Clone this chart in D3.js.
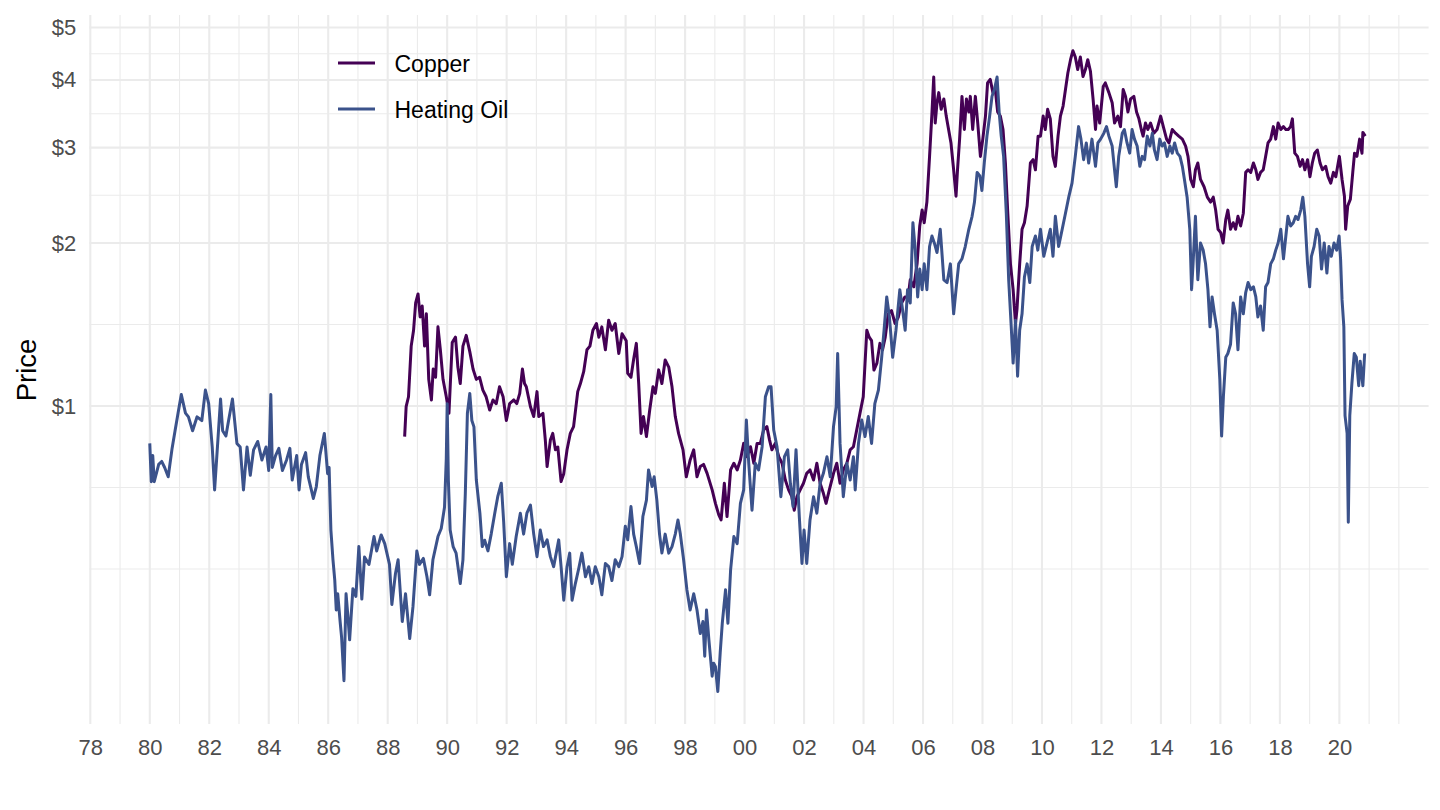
<!DOCTYPE html>
<html>
<head>
<meta charset="utf-8">
<script src="https://cdn.jsdelivr.net/npm/d3@7"></script>
<style>
  body { margin: 0; background: #fff; }
  svg { display: block; font-family: "Liberation Sans", Arial, sans-serif; }
</style>
</head>
<body>
<svg id="chart" width="1440" height="810"></svg>
<script>
const width = 1440;
const height = 810;

// [year, price]
var copperPoints = [
  [1988.57,0.878],[1988.62,0.997],[1988.7,1.04],[1988.79,1.29],[1988.87,1.38],[1988.94,1.55],[1989.02,1.61],
  [1989.09,1.46],[1989.16,1.53],[1989.24,1.29],[1989.3,1.48],[1989.38,1.12],[1989.47,1.026],[1989.53,1.17],
  [1989.61,1.13],[1989.69,1.40],[1989.77,1.27],[1989.86,1.12],[1989.97,1.04],[1990.06,0.97],[1990.17,1.31],
  [1990.28,1.34],[1990.36,1.18],[1990.44,1.10],[1990.53,1.29],[1990.64,1.35],[1990.76,1.26],[1990.87,1.17],
  [1990.98,1.12],[1991.09,1.13],[1991.2,1.07],[1991.31,1.04],[1991.43,0.983],[1991.54,1.026],[1991.65,1.01],
  [1991.76,1.085],[1991.88,1.04],[1991.99,0.94],[1992.1,1.01],[1992.24,1.026],[1992.34,1.01],[1992.44,1.055],
  [1992.53,1.17],[1992.6,1.10],[1992.66,1.085],[1992.8,0.997],[1992.91,0.956],[1993.02,1.063],[1993.08,0.956],
  [1993.22,0.969],[1993.3,0.865],[1993.36,0.773],[1993.47,0.865],[1993.55,0.89],[1993.64,0.83],[1993.72,0.84],
  [1993.83,0.725],[1993.92,0.75],[1994.03,0.83],[1994.14,0.89],[1994.25,0.916],[1994.39,1.063],[1994.48,1.10],
  [1994.59,1.157],[1994.7,1.27],[1994.8,1.29],[1994.9,1.38],[1995.02,1.42],[1995.1,1.34],[1995.2,1.40],
  [1995.32,1.27],[1995.43,1.44],[1995.54,1.38],[1995.65,1.42],[1995.77,1.25],[1995.88,1.36],[1996.02,1.32],
  [1996.07,1.149],[1996.18,1.13],[1996.27,1.22],[1996.36,1.305],[1996.44,1.10],[1996.52,0.89],[1996.6,0.956],
  [1996.7,0.878],[1996.81,0.983],[1996.92,1.085],[1997.0,1.055],[1997.11,1.166],[1997.22,1.10],[1997.33,1.216],
  [1997.45,1.18],[1997.56,1.085],[1997.67,0.956],[1997.78,0.89],[1997.93,0.83],[1998.04,0.74],[1998.17,0.795],
  [1998.29,0.83],[1998.4,0.74],[1998.51,0.773],[1998.62,0.78],[1998.74,0.751],[1998.91,0.70],[1999.02,0.661],
  [1999.13,0.63],[1999.21,0.616],[1999.32,0.72],[1999.41,0.625],[1999.53,0.762],[1999.64,0.784],[1999.75,0.762],
  [1999.86,0.795],[1999.97,0.853],[2000.08,0.806],[2000.2,0.841],[2000.31,0.784],[2000.42,0.853],[2000.53,0.853],
  [2000.64,0.903],[2000.75,0.916],[2000.84,0.865],[2000.92,0.83],[2001.03,0.853],[2001.15,0.806],[2001.26,0.784],
  [2001.37,0.73],[2001.48,0.70],[2001.59,0.68],[2001.67,0.642],[2001.76,0.68],[2001.87,0.70],[2001.98,0.72],
  [2002.09,0.751],[2002.2,0.762],[2002.32,0.73],[2002.43,0.784],[2002.54,0.72],[2002.65,0.69],[2002.74,0.661],
  [2002.85,0.70],[2002.99,0.751],[2003.1,0.784],[2003.21,0.72],[2003.32,0.762],[2003.44,0.784],[2003.55,0.83],
  [2003.66,0.841],[2003.77,0.903],[2003.88,0.969],[2003.99,1.04],[2004.11,1.38],[2004.19,1.34],[2004.27,1.32],
  [2004.35,1.165],[2004.45,1.2],[2004.55,1.305],[2004.64,1.27],[2004.73,1.34],[2004.83,1.48],[2004.94,1.50],
  [2005.06,1.42],[2005.17,1.46],[2005.28,1.55],[2005.39,1.59],[2005.5,1.59],[2005.57,1.71],[2005.69,1.66],
  [2005.8,1.83],[2005.89,2.15],[2005.97,2.30],[2006.04,2.18],[2006.13,2.38],[2006.22,2.89],[2006.3,3.47],
  [2006.36,4.05],[2006.41,3.33],[2006.47,3.63],[2006.53,3.79],[2006.61,3.53],[2006.7,3.69],[2006.78,3.43],
  [2006.86,3.24],[2006.94,3.06],[2007.03,2.73],[2007.11,2.44],[2007.16,2.73],[2007.23,3.11],[2007.31,3.73],
  [2007.39,3.24],[2007.46,3.69],[2007.54,3.49],[2007.59,3.73],[2007.67,3.24],[2007.76,3.73],[2007.84,3.33],
  [2007.93,2.89],[2008.01,3.11],[2008.1,3.43],[2008.17,3.95],[2008.26,4.01],[2008.35,3.79],[2008.43,3.84],
  [2008.51,3.49],[2008.6,3.43],[2008.69,3.24],[2008.77,2.81],[2008.85,2.27],[2008.94,1.83],[2009.03,1.64],
  [2009.11,1.42],[2009.16,1.51],[2009.25,1.83],[2009.33,2.12],[2009.41,2.18],[2009.5,2.34],[2009.61,2.81],
  [2009.7,2.85],[2009.78,2.73],[2009.87,3.15],[2009.95,3.15],[2010.04,3.43],[2010.11,3.24],[2010.19,3.53],
  [2010.28,3.39],[2010.37,2.89],[2010.45,2.77],[2010.54,3.15],[2010.62,3.43],[2010.71,3.58],[2010.79,3.84],
  [2010.87,4.12],[2010.96,4.36],[2011.04,4.53],[2011.12,4.41],[2011.2,4.18],[2011.29,4.41],[2011.38,4.06],
  [2011.46,4.18],[2011.54,4.36],[2011.63,4.15],[2011.72,3.68],[2011.8,3.24],[2011.85,3.58],[2011.94,3.33],
  [2012.06,3.89],[2012.13,3.95],[2012.25,3.79],[2012.36,3.63],[2012.44,3.33],[2012.55,3.43],[2012.64,3.28],
  [2012.73,3.84],[2012.81,3.73],[2012.89,3.49],[2012.98,3.69],[2013.09,3.73],[2013.18,3.49],[2013.26,3.39],
  [2013.34,3.24],[2013.4,3.15],[2013.48,3.33],[2013.56,3.24],[2013.65,3.33],[2013.76,3.19],[2013.87,3.24],
  [2013.99,3.43],[2014.08,3.28],[2014.19,3.11],[2014.27,3.06],[2014.38,3.24],[2014.49,3.19],[2014.6,3.15],
  [2014.72,3.11],[2014.83,3.02],[2014.91,2.89],[2015.0,2.62],[2015.09,2.54],[2015.16,2.73],[2015.24,2.81],
  [2015.33,2.62],[2015.45,2.54],[2015.56,2.43],[2015.67,2.38],[2015.76,2.43],[2015.84,2.30],[2015.92,2.12],
  [2016.01,2.09],[2016.09,2.0],[2016.18,2.21],[2016.25,2.30],[2016.34,2.12],[2016.43,2.18],[2016.51,2.12],
  [2016.59,2.24],[2016.68,2.15],[2016.77,2.27],[2016.85,2.70],[2016.93,2.73],[2017.02,2.70],[2017.11,2.81],
  [2017.19,2.73],[2017.26,2.62],[2017.35,2.70],[2017.44,2.73],[2017.52,2.89],[2017.6,3.06],[2017.69,3.11],
  [2017.78,3.28],[2017.86,3.11],[2017.94,3.33],[2018.03,3.24],[2018.12,3.28],[2018.2,3.24],[2018.28,3.24],
  [2018.36,3.28],[2018.42,3.39],[2018.5,2.93],[2018.59,2.89],[2018.68,2.77],[2018.76,2.85],[2018.84,2.73],
  [2018.93,2.85],[2019.01,2.65],[2019.09,2.81],[2019.17,2.93],[2019.26,2.97],[2019.35,2.81],[2019.43,2.73],
  [2019.54,2.77],[2019.62,2.65],[2019.71,2.58],[2019.8,2.70],[2019.88,2.65],[2019.96,2.81],[2020.0,2.89],
  [2020.09,2.62],[2020.17,2.44],[2020.21,2.12],[2020.28,2.34],[2020.37,2.41],[2020.45,2.70],[2020.51,2.93],
  [2020.59,2.89],[2020.68,3.11],[2020.76,2.93],[2020.79,3.2],[2020.87,3.15]
];

var oilPoints = [
  [1980.0,0.853],[1980.05,0.725],[1980.1,0.81],[1980.15,0.725],[1980.3,0.78],[1980.4,0.79],[1980.5,0.77],
  [1980.62,0.74],[1980.75,0.835],[1980.85,0.90],[1980.95,0.97],[1981.06,1.05],[1981.2,0.97],[1981.3,0.955],
  [1981.44,0.90],[1981.59,0.955],[1981.75,0.94],[1981.87,1.07],[1981.98,1.01],[1982.1,0.84],[1982.18,0.70],
  [1982.29,0.865],[1982.38,1.03],[1982.45,0.90],[1982.56,0.88],[1982.65,0.94],[1982.78,1.03],[1982.93,0.853],
  [1983.04,0.84],[1983.15,0.70],[1983.27,0.84],[1983.38,0.745],[1983.49,0.83],[1983.63,0.86],[1983.77,0.795],
  [1983.91,0.84],[1984.0,0.76],[1984.07,1.05],[1984.12,0.77],[1984.23,0.81],[1984.34,0.835],[1984.46,0.76],
  [1984.6,0.795],[1984.71,0.835],[1984.79,0.73],[1984.94,0.81],[1985.02,0.70],[1985.1,0.78],[1985.24,0.82],
  [1985.33,0.74],[1985.5,0.675],[1985.6,0.71],[1985.72,0.81],[1985.87,0.89],[1985.98,0.75],[1986.03,0.77],
  [1986.09,0.59],[1986.16,0.52],[1986.22,0.477],[1986.27,0.42],[1986.32,0.45],[1986.4,0.40],[1986.45,0.374],
  [1986.53,0.311],[1986.6,0.45],[1986.66,0.41],[1986.72,0.37],[1986.83,0.46],[1986.93,0.445],[1987.03,0.55],
  [1987.13,0.44],[1987.22,0.526],[1987.37,0.51],[1987.54,0.574],[1987.63,0.54],[1987.78,0.578],[1987.9,0.557],
  [1988.06,0.51],[1988.14,0.43],[1988.26,0.49],[1988.35,0.52],[1988.49,0.40],[1988.6,0.45],[1988.74,0.372],
  [1988.85,0.426],[1988.98,0.54],[1989.07,0.51],[1989.2,0.523],[1989.32,0.484],[1989.41,0.448],[1989.52,0.52],
  [1989.69,0.574],[1989.8,0.594],[1989.91,0.65],[1989.97,0.80],[1990.0,1.01],[1990.04,0.73],[1990.1,0.59],
  [1990.2,0.55],[1990.3,0.535],[1990.44,0.47],[1990.53,0.52],[1990.61,0.69],[1990.68,0.97],[1990.76,1.055],
  [1990.83,0.94],[1990.9,0.915],[1990.98,0.73],[1991.1,0.634],[1991.18,0.55],[1991.26,0.565],[1991.37,0.54],
  [1991.48,0.58],[1991.6,0.634],[1991.7,0.68],[1991.82,0.72],[1991.9,0.61],[1991.99,0.484],[1992.1,0.557],
  [1992.19,0.51],[1992.32,0.574],[1992.46,0.634],[1992.57,0.58],[1992.68,0.634],[1992.8,0.656],[1992.91,0.58],
  [1993.02,0.527],[1993.13,0.59],[1993.24,0.55],[1993.36,0.566],[1993.47,0.527],[1993.58,0.505],[1993.75,0.566],
  [1993.83,0.505],[1993.92,0.438],[1994.03,0.505],[1994.12,0.535],[1994.2,0.438],[1994.31,0.47],[1994.42,0.50],
  [1994.53,0.535],[1994.65,0.484],[1994.76,0.505],[1994.87,0.47],[1994.98,0.505],[1995.1,0.484],[1995.2,0.448],
  [1995.32,0.512],[1995.43,0.505],[1995.54,0.476],[1995.65,0.52],[1995.77,0.505],[1995.88,0.527],[1995.99,0.60],
  [1996.07,0.566],[1996.18,0.652],[1996.27,0.58],[1996.36,0.55],[1996.47,0.512],[1996.58,0.625],[1996.7,0.67],
  [1996.77,0.762],[1996.89,0.71],[1996.96,0.74],[1997.05,0.67],[1997.14,0.58],[1997.22,0.535],[1997.33,0.58],
  [1997.45,0.535],[1997.56,0.55],[1997.67,0.58],[1997.76,0.616],[1997.84,0.58],[1997.95,0.52],[1998.06,0.458],
  [1998.17,0.42],[1998.29,0.45],[1998.4,0.42],[1998.51,0.38],[1998.6,0.40],[1998.66,0.345],[1998.72,0.42],
  [1998.8,0.37],[1998.91,0.317],[1998.96,0.335],[1999.02,0.33],[1999.1,0.297],[1999.18,0.35],[1999.25,0.397],
  [1999.36,0.458],[1999.44,0.397],[1999.53,0.498],[1999.64,0.574],[1999.75,0.557],[1999.86,0.661],[1999.97,0.70],
  [2000.06,0.942],[2000.14,0.784],[2000.25,0.642],[2000.36,0.784],[2000.47,0.762],[2000.59,0.841],[2000.7,1.04],
  [2000.81,1.085],[2000.89,1.085],[2000.98,0.903],[2001.09,0.841],[2001.22,0.68],[2001.34,0.806],[2001.45,0.83],
  [2001.54,0.72],[2001.63,0.652],[2001.73,0.83],[2001.84,0.625],[2001.93,0.512],[2002.0,0.59],[2002.09,0.512],
  [2002.2,0.616],[2002.32,0.68],[2002.43,0.634],[2002.54,0.72],[2002.65,0.751],[2002.77,0.806],[2002.88,0.74],
  [2002.99,0.916],[2003.08,0.997],[2003.13,1.25],[2003.21,0.853],[2003.32,0.68],[2003.44,0.784],[2003.55,0.73],
  [2003.66,0.806],[2003.72,0.70],[2003.83,0.853],[2003.94,0.942],[2004.05,0.878],[2004.16,0.956],[2004.27,0.853],
  [2004.38,1.01],[2004.5,1.07],[2004.61,1.23],[2004.69,1.38],[2004.78,1.59],[2004.87,1.46],[2004.98,1.23],
  [2005.09,1.38],[2005.22,1.64],[2005.33,1.48],[2005.4,1.38],[2005.48,1.64],[2005.57,1.55],[2005.66,2.18],
  [2005.74,1.94],[2005.82,1.59],[2005.89,1.79],[2005.97,1.64],[2006.04,1.83],[2006.13,1.64],[2006.22,1.97],
  [2006.3,2.06],[2006.38,2.0],[2006.47,1.92],[2006.58,2.12],[2006.7,1.71],[2006.81,1.69],[2006.92,1.83],
  [2007.03,1.48],[2007.11,1.64],[2007.2,1.83],[2007.31,1.87],[2007.42,1.97],[2007.54,2.12],[2007.65,2.24],
  [2007.73,2.38],[2007.82,2.70],[2007.91,2.66],[2007.98,2.50],[2008.06,2.81],[2008.15,3.15],[2008.24,3.43],
  [2008.32,3.73],[2008.4,3.84],[2008.49,4.05],[2008.56,3.49],[2008.63,3.15],[2008.71,2.89],[2008.8,2.27],
  [2008.88,1.71],[2008.96,1.42],[2009.03,1.2],[2009.11,1.44],[2009.18,1.135],[2009.25,1.38],[2009.33,1.48],
  [2009.41,1.73],[2009.5,1.83],[2009.59,1.69],[2009.67,1.97],[2009.78,2.06],[2009.86,1.94],[2009.95,2.12],
  [2010.06,1.89],[2010.17,2.0],[2010.28,2.12],[2010.37,1.89],[2010.45,2.24],[2010.56,1.97],[2010.68,2.12],
  [2010.79,2.27],[2010.9,2.43],[2011.01,2.58],[2011.12,2.89],[2011.23,3.28],[2011.31,3.11],[2011.4,2.85],
  [2011.49,3.06],[2011.57,2.81],[2011.68,3.11],[2011.8,2.77],[2011.88,3.06],[2011.97,3.11],[2012.08,3.19],
  [2012.17,3.28],[2012.25,3.15],[2012.36,3.02],[2012.44,2.73],[2012.5,2.54],[2012.58,2.89],[2012.7,3.19],
  [2012.77,3.24],[2012.86,3.06],[2012.95,2.93],[2013.03,3.24],[2013.11,3.11],[2013.2,3.02],[2013.29,2.77],
  [2013.37,2.89],[2013.45,2.85],[2013.54,3.15],[2013.63,3.02],[2013.71,3.19],[2013.78,2.97],[2013.87,2.85],
  [2013.96,3.11],[2014.04,3.02],[2014.12,3.06],[2014.21,2.89],[2014.3,3.02],[2014.38,2.93],[2014.46,3.06],
  [2014.55,2.93],[2014.64,2.89],[2014.72,2.77],[2014.79,2.62],[2014.88,2.43],[2014.97,2.12],[2015.03,1.64],
  [2015.08,1.83],[2015.16,2.24],[2015.24,1.71],[2015.33,2.0],[2015.42,1.94],[2015.5,1.83],[2015.58,1.64],
  [2015.65,1.40],[2015.72,1.59],[2015.8,1.48],[2015.89,1.38],[2015.98,1.12],[2016.04,0.88],[2016.1,1.04],
  [2016.18,1.23],[2016.25,1.25],[2016.34,1.30],[2016.43,1.55],[2016.51,1.48],[2016.59,1.27],[2016.68,1.59],
  [2016.77,1.48],[2016.85,1.62],[2016.93,1.69],[2017.02,1.64],[2017.11,1.66],[2017.19,1.59],[2017.26,1.46],
  [2017.35,1.53],[2017.44,1.38],[2017.52,1.66],[2017.6,1.69],[2017.69,1.83],[2017.78,1.87],[2017.86,1.94],
  [2017.94,2.0],[2018.03,2.12],[2018.12,1.87],[2018.2,2.06],[2018.27,2.24],[2018.36,2.15],[2018.45,2.18],
  [2018.53,2.24],[2018.61,2.21],[2018.7,2.30],[2018.77,2.43],[2018.84,2.24],[2018.93,1.83],[2019.0,1.66],
  [2019.06,1.89],[2019.15,1.97],[2019.24,2.12],[2019.32,2.06],[2019.4,1.79],[2019.49,2.0],[2019.58,1.76],
  [2019.65,1.97],[2019.73,1.89],[2019.82,2.0],[2019.91,1.94],[2019.99,2.06],[2020.04,1.87],[2020.09,1.57],
  [2020.15,1.40],[2020.19,0.96],[2020.26,0.89],[2020.3,0.61],[2020.35,0.96],[2020.42,1.10],[2020.5,1.25],
  [2020.57,1.23],[2020.65,1.09],[2020.7,1.21],[2020.79,1.09],[2020.85,1.25]
];

var seriesNames = ["Copper", "Heating Oil"];
var seriesColors = ["#440154", "#3B528B"];

var yearMajor = d3.range(1978, 2021, 2);
var yearMinor = d3.range(1979, 2022, 2).concat([2022]);
var priceMajor = [1, 2, 3, 4, 5];
var priceMinor = [0.5, Math.SQRT1_2, Math.SQRT2, Math.sqrt(6), Math.sqrt(12), Math.sqrt(20)];

var panelLeft = 90.3, panelRight = 1428.6, panelTop = 15, panelBottom = 724;

var svg = d3.select("#chart");

var x = d3.scaleLinear().domain([1978, 2023]).range([panelLeft, panelRight]);
var y = d3.scaleLog().domain([0.2587, 5.272]).range([panelBottom, panelTop]);

var grid = svg.append("g").attr("stroke", "#EBEBEB");

grid.selectAll(".hmin").data(priceMinor).enter().append("line")
    .attr("x1", panelLeft - 1).attr("x2", panelRight)
    .attr("y1", d => y(d)).attr("y2", d => y(d))
    .attr("stroke-width", 1.1);
grid.selectAll(".vmin").data(yearMinor).enter().append("line")
    .attr("x1", d => x(d)).attr("x2", d => x(d))
    .attr("y1", panelTop).attr("y2", panelBottom)
    .attr("stroke-width", 1.1);
grid.selectAll(".hmaj").data(priceMajor).enter().append("line")
    .attr("x1", panelLeft - 1).attr("x2", panelRight)
    .attr("y1", d => y(d)).attr("y2", d => y(d))
    .attr("stroke-width", 2.1);
grid.selectAll(".vmaj").data(yearMajor).enter().append("line")
    .attr("x1", d => x(d)).attr("x2", d => x(d))
    .attr("y1", panelTop).attr("y2", panelBottom)
    .attr("stroke-width", 2.1);

var xAxis = d3.axisBottom(x)
    .tickValues(yearMajor)
    .tickSize(0)
    .tickPadding(15)
    .tickFormat(d => String(d % 100).padStart(2, "0"));

var yAxis = d3.axisLeft(y)
    .tickValues(priceMajor)
    .tickSize(0)
    .tickPadding(14)
    .tickFormat(d => "$" + d);

svg.append("g").attr("transform", "translate(0," + panelBottom + ")").call(xAxis)
    .call(g => g.select(".domain").remove())
    .selectAll("text").attr("fill", "#4D4D4D").style("font-size", "22px");

svg.append("g").attr("transform", "translate(" + panelLeft + ",0)").call(yAxis)
    .call(g => g.select(".domain").remove())
    .selectAll("text").attr("fill", "#4D4D4D").style("font-size", "22px");

svg.append("text")
    .attr("transform", "translate(35.5,370) rotate(-90)")
    .attr("text-anchor", "middle")
    .style("font-size", "27.5px")
    .attr("fill", "#000")
    .text("Price");

var line = d3.line()
    .x(d => x(d[0]))
    .y(d => y(d[1]));

[copperPoints, oilPoints].forEach(function (pts, i) {
    svg.append("path")
        .datum(pts)
        .attr("fill", "none")
        .attr("stroke", seriesColors[i])
        .attr("stroke-width", 3)
        .attr("stroke-linejoin", "round")
        .attr("d", line);
});

var legend = svg.append("g");
seriesNames.forEach(function (name, i) {
    var ly = 63 + i * 46;
    legend.append("line")
        .attr("x1", 338).attr("x2", 375)
        .attr("y1", ly).attr("y2", ly)
        .attr("stroke", seriesColors[i])
        .attr("stroke-width", 3);
    legend.append("text")
        .attr("x", 394.5).attr("y", ly + 1)
        .attr("dy", "0.35em")
        .style("font-size", "23px")
        .attr("fill", "#000")
        .text(name);
});
</script>
</body>
</html>
